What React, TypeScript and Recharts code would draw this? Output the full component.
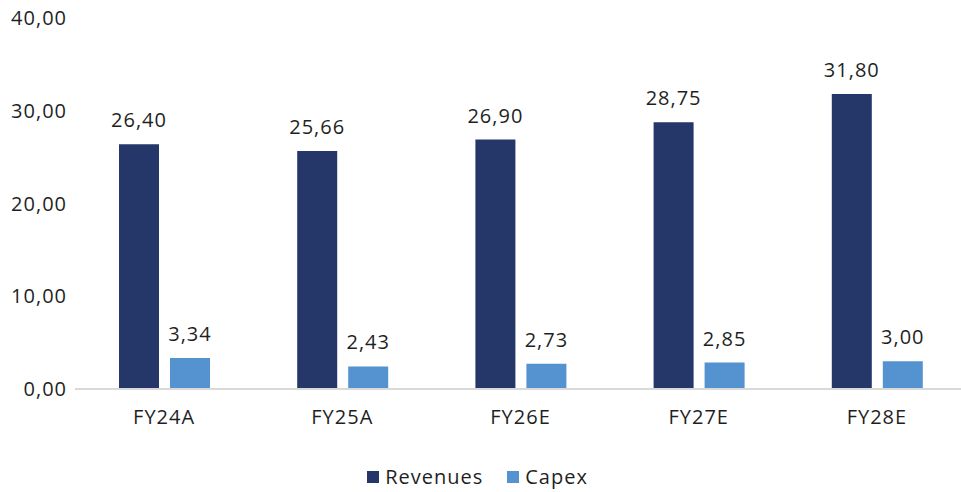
import React from "react"
import { BarChart, Bar, XAxis, YAxis, Legend, LabelList } from "recharts"

const years = ["FY24A", "FY25A", "FY26E", "FY27E", "FY28E"]
const revenues = [26.4, 25.66, 26.9, 28.75, 31.8]
const capex = [3.34, 2.43, 2.73, 2.85, 3.0]
const yTicks = [0, 10, 20, 30, 40]
const seriesNames = ["Revenues", "Capex"]
const seriesColors = ["#253668", "#5592d0"]

const data = years.map((year, i) => ({ year, Revenues: revenues[i], Capex: capex[i] }))

const FONT = "'Open Sans', 'Noto Sans', sans-serif"
const TEXT = "#1f1f1f"
const fmt = (v: number) => v.toFixed(2).replace(".", ",")

function LegendBox() {
  return (
    <div style={{ display: "flex", justifyContent: "center", alignItems: "center", paddingTop: 16, paddingRight: 11, fontFamily: FONT, fontSize: 20, letterSpacing: 1, color: TEXT }}>
      {seriesNames.map((name, i) => (
        <div key={name} style={{ display: "flex", alignItems: "center", marginRight: i === 0 ? 24 : 0 }}>
          <span style={{ width: 12, height: 12, background: seriesColors[i], marginRight: 6, display: "inline-block" }} />
          <span>{name}</span>
        </div>
      ))}
    </div>
  )
}

export default function App() {
  return (
    <div style={{ position: "absolute", left: 0, top: 0, width: 961, height: 492, overflow: "hidden", background: "#fff" }}>
      <BarChart
        width={968}
        height={492}
        data={data}
        margin={{ top: 18, right: 2, bottom: 0, left: 0 }}
        barSize={40}
        barGap={11}
        style={{ fontFamily: FONT }}
      >
        <XAxis
          dataKey="year"
          axisLine={{ stroke: "#d9d9d9", strokeWidth: 2 }}
          tickLine={false}
          tick={{ fill: TEXT, fontSize: 20, letterSpacing: 1 }}
          tickMargin={15}
          height={58}
        />
        <YAxis
          domain={[0, 40]}
          ticks={yTicks}
          tickFormatter={fmt}
          axisLine={false}
          tickLine={false}
          tickSize={0}
          tickMargin={8}
          width={75}
          tick={{ fill: TEXT, fontSize: 20, letterSpacing: 1 }}
        />
        <Legend content={<LegendBox />} height={45} />
        <Bar dataKey="Revenues" fill={seriesColors[0]} isAnimationActive={false}>
          <LabelList dataKey="Revenues" position="top" offset={17} formatter={fmt} fill={TEXT} fontSize={20} letterSpacing={1} />
        </Bar>
        <Bar dataKey="Capex" fill={seriesColors[1]} isAnimationActive={false}>
          <LabelList dataKey="Capex" position="top" offset={17} formatter={fmt} fill={TEXT} fontSize={20} letterSpacing={1} />
        </Bar>
      </BarChart>
    </div>
  )
}
